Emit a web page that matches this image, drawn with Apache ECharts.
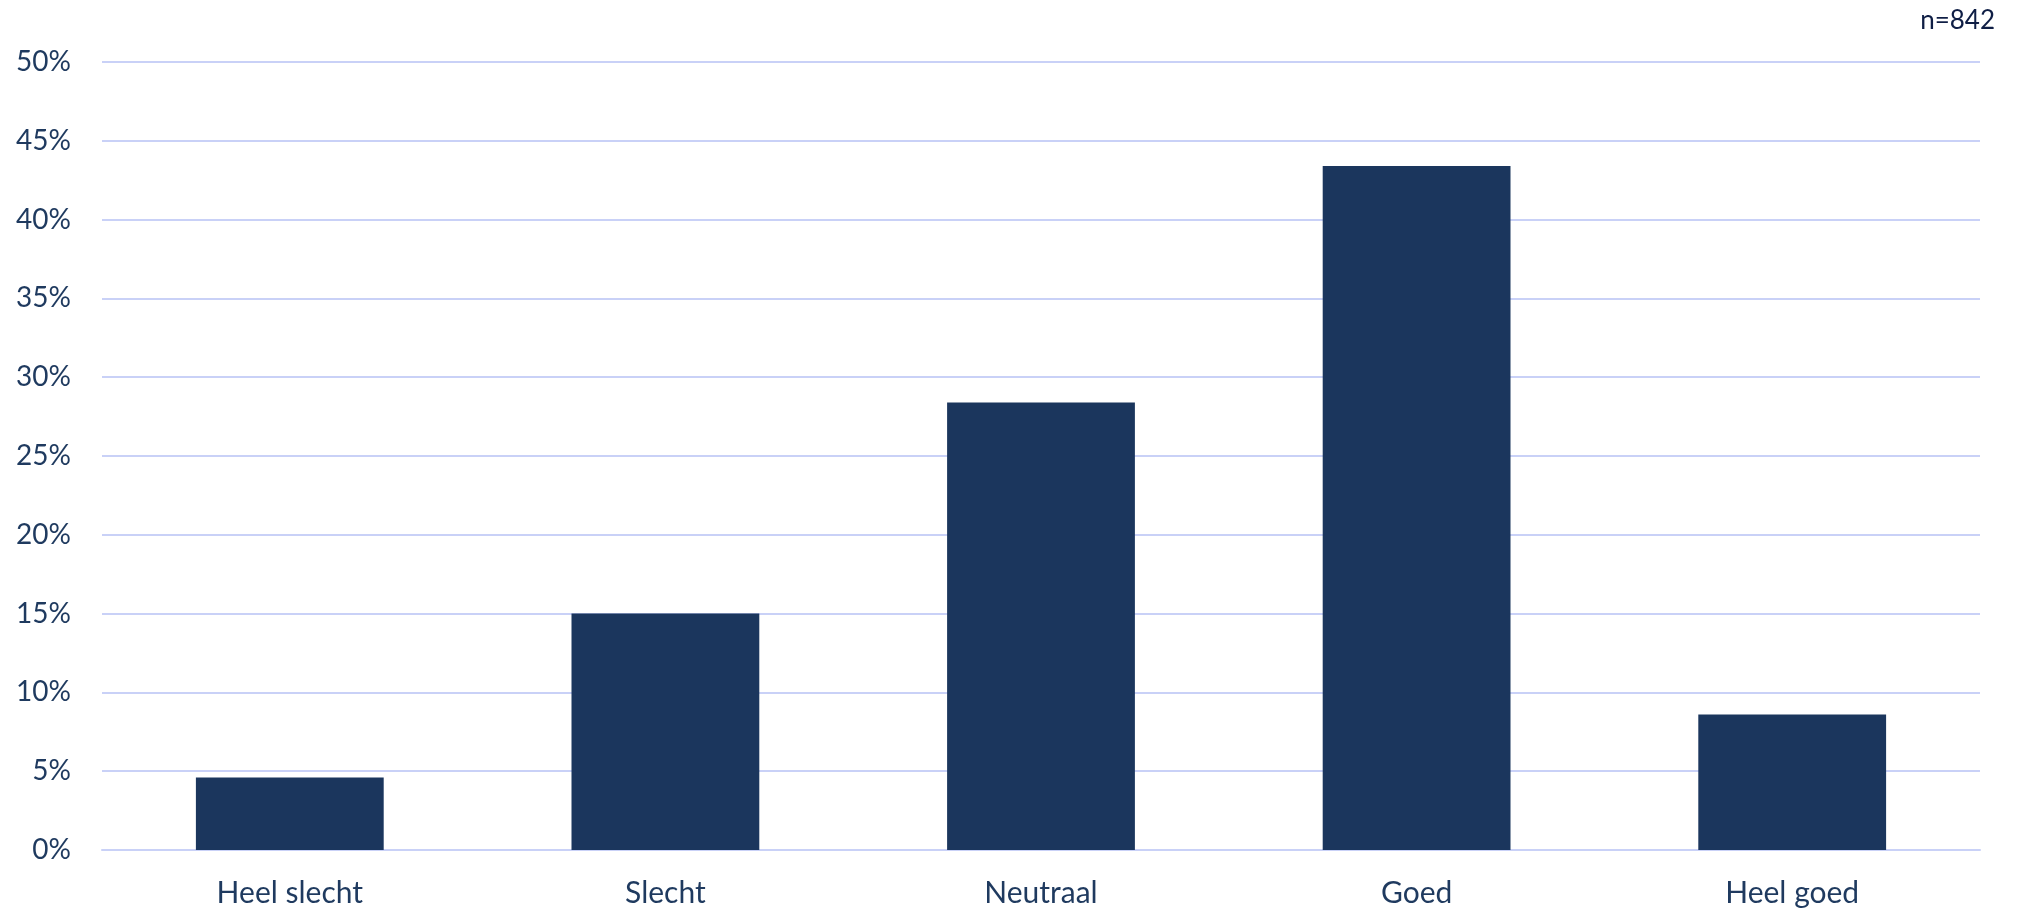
<!DOCTYPE html>
<html><head><meta charset="utf-8">
<script src="https://cdn.jsdelivr.net/npm/echarts@6/dist/echarts.min.js"></script>
<style>html,body{margin:0;padding:0;background:#fff}#c{width:2022px;height:912px}</style>
</head><body><div id="c"></div>
<script>
const categories = ['Heel slecht', 'Slecht', 'Neutraal', 'Goed', 'Heel goed'];
const values = [4.6, 15.0, 28.4, 43.4, 8.6];
const noteText = 'n=842';

const chart = echarts.init(document.getElementById('c'));
chart.setOption({
  animation: false,
  textStyle: { fontFamily: 'Lato' },
  title: {
    text: noteText, right: 22, top: 3,
    textStyle: { fontFamily: 'Lato', fontSize: 26, fontWeight: 'normal', color: '#0f1e45' }
  },
  grid: { left: 102, right: 42, top: 62, bottom: 62, containLabel: false },
  xAxis: {
    type: 'category', data: categories,
    axisLine: { show: true, lineStyle: { color: '#C9D1F7', width: 2 } },
    axisTick: { show: false },
    axisLabel: { color: '#1f3a5f', fontSize: 30, margin: 28, fontFamily: 'Lato' }
  },
  yAxis: {
    type: 'value', min: 0, max: 50, interval: 5,
    axisLine: { show: false }, axisTick: { show: false },
    splitLine: { lineStyle: { color: '#C9D1F7', width: 2 } },
    axisLabel: { color: '#1f3a5f', fontSize: 28, margin: 31, formatter: '{value}%', fontFamily: 'Lato' }
  },
  series: [{
    type: 'bar', data: values, barWidth: '50%',
    itemStyle: { color: '#1B365D' }
  }]
});
</script></body></html>
